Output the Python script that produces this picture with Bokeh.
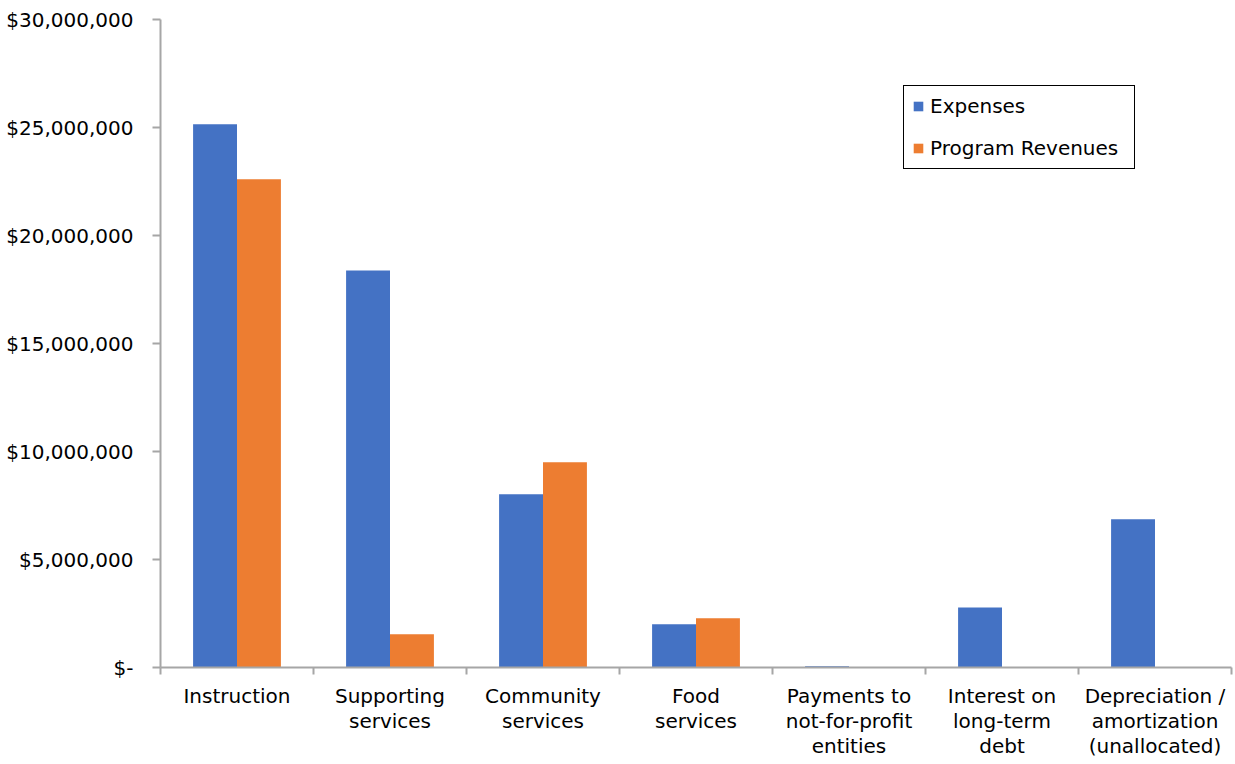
from bokeh.plotting import figure
from bokeh.models import FixedTicker, ColumnDataSource, Legend, LegendItem, Range1d
from bokeh.transform import dodge
from bokeh.embed import file_html
from bokeh.resources import INLINE

categories = ["Instruction", "Supporting\nservices", "Community\nservices", "Food\nservices",
              "Payments to\nnot-for-profit\nentities", "Interest on\nlong-term\ndebt",
              "Depreciation /\namortization\n(unallocated)"]
expenses = [25150000, 18380000, 8020000, 2000000, 60000, 2780000, 6860000]
revenues = [22600000, 1540000, 9500000, 2280000, 0, 0, 0]
y_ticks = [0, 5000000, 10000000, 15000000, 20000000, 25000000, 30000000]
y_labels = ["$-", "$5,000,000", "$10,000,000", "$15,000,000", "$20,000,000", "$25,000,000", "$30,000,000"]

FONT = "DejaVu Sans"
FS = "20px"
n = len(categories)
centers = [i + 0.5 for i in range(n)]

src = ColumnDataSource(dict(x=centers, exp=expenses, rev=revenues))

p = figure(width=1233, height=762, output_backend="svg", toolbar_location=None,
           x_range=Range1d(0, n), y_range=Range1d(0, 30000000),
           min_border_left=160, min_border_top=19, min_border_right=2, min_border_bottom=95)
p.outline_line_color = None
p.xgrid.visible = False
p.ygrid.visible = False

bw = 0.287
r1 = p.vbar(x=dodge("x", -bw / 2), top="exp", width=bw, source=src, fill_color="#4472C4", line_color=None)
r2 = p.vbar(x=dodge("x", bw / 2), top="rev", width=bw, source=src, fill_color="#ED7D31", line_color=None)

ax = p.xaxis[0]
ax.ticker = FixedTicker(ticks=centers, minor_ticks=list(range(n + 1)))
ax.major_label_overrides = {c: lab for c, lab in zip(centers, categories)}
ax.major_tick_line_color = None
ax.minor_tick_in = 0
ax.minor_tick_out = 7
ax.minor_tick_line_color = "#a6a6a6"
ax.minor_tick_line_width = 2
ax.axis_line_color = "#a6a6a6"
ax.axis_line_width = 2
ax.major_label_text_font = FONT
ax.major_label_text_font_size = FS
ax.major_label_text_color = "black"
ax.major_label_text_line_height = 1.05
ax.major_label_standoff = 9

ay = p.yaxis[0]
ay.ticker = FixedTicker(ticks=y_ticks, minor_ticks=[])
ay.major_label_overrides = {t: l for t, l in zip(y_ticks, y_labels)}
ay.major_tick_in = 0
ay.major_tick_out = 8
ay.major_tick_line_color = "#a6a6a6"
ay.major_tick_line_width = 2
ay.axis_line_color = "#a6a6a6"
ay.axis_line_width = 2
ay.major_label_text_font = FONT
ay.major_label_text_font_size = FS
ay.major_label_text_color = "black"
ay.major_label_standoff = 19

legend = Legend(items=[LegendItem(label="Expenses", renderers=[r1]),
                       LegendItem(label="Program Revenues", renderers=[r2])],
                location=(743, 498))
legend.label_text_font = FONT
legend.label_text_font_size = FS
legend.label_text_color = "black"
legend.glyph_width = 12
legend.glyph_height = 12
legend.label_height = 20
legend.label_width = 196
legend.label_standoff = 6
legend.spacing = 18
legend.padding = 8
legend.margin = 0
legend.border_line_color = "black"
legend.border_line_width = 1.5
legend.border_line_alpha = 1.0
p.add_layout(legend, "center")

open("out.html", "w").write(file_html(p, INLINE))
